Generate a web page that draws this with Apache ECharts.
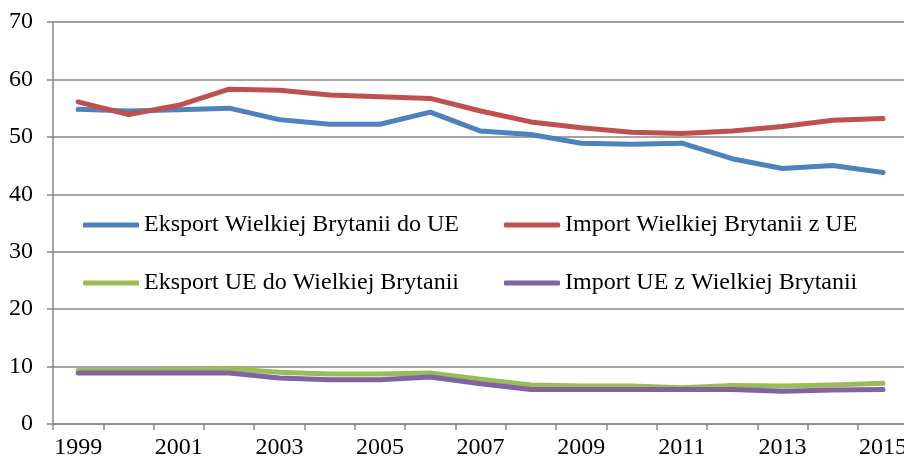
<!DOCTYPE html>
<html style="height: 100%">
<head>
<meta charset="utf-8">
<style type="text/css">
* { margin: 0; padding: 0; }
</style>
</head>
<body style="height: 100%; margin: 0; background: #fff; overflow: hidden">
<!-- the original chart is cropped on the right, so the canvas runs a few px past the window -->
<div id="main" style="width: 910px; height: 460px"></div>
<script type="text/javascript" src="https://cdn.jsdelivr.net/npm/echarts@6/dist/echarts.min.js"></script>
<script type="text/javascript">
var years = ['1999','2000','2001','2002','2003','2004','2005','2006','2007','2008','2009','2010','2011','2012','2013','2014','2015'];
var names = ['Eksport Wielkiej Brytanii do UE', 'Import Wielkiej Brytanii z UE', 'Eksport UE do Wielkiej Brytanii', 'Import UE z Wielkiej Brytanii'];
var eksportWB = [54.8, 54.5, 54.7, 55.0, 53.0, 52.2, 52.2, 54.3, 51.0, 50.4, 48.9, 48.7, 48.9, 46.2, 44.5, 45.0, 43.8];
var importWB  = [56.1, 53.9, 55.5, 58.3, 58.1, 57.3, 57.0, 56.7, 54.5, 52.6, 51.6, 50.8, 50.6, 51.0, 51.8, 52.9, 53.2];
var eksportUE = [9.3, 9.3, 9.4, 9.6, 9.0, 8.7, 8.7, 8.9, 7.8, 6.8, 6.6, 6.6, 6.3, 6.7, 6.6, 6.8, 7.1];
var importUE  = [8.9, 8.9, 8.9, 8.9, 8.0, 7.7, 7.7, 8.2, 7.0, 6.0, 6.0, 6.0, 6.0, 6.0, 5.7, 5.9, 6.0];
var colors = ['#4F81BD', '#C0504D', '#9BBB59', '#8064A2'];

var font = "'Liberation Serif', 'Times New Roman', serif";
var myChart = echarts.init(document.getElementById('main'));

function leg(name, left, top) {
	return {
		data: [name], left: left, top: top, padding: 0,
		icon: 'roundRect', itemWidth: 56, itemHeight: 5, itemGap: 0,
		selectedMode: false,
		textStyle: { fontFamily: font, fontSize: 24, color: '#000' }
	};
}

function line(i, data) {
	return {
		name: names[i], type: 'line', data: data,
		symbol: 'none', smooth: false,
		itemStyle: { color: colors[i] },
		lineStyle: { color: colors[i], width: 5, cap: 'round', join: 'round' }
	};
}

var option = {
	animation: false,
	color: colors,
	grid: { left: 53, right: 0, top: 22, bottom: 35 },
	legend: [
		leg(names[0], 83, 213),
		leg(names[1], 504, 213),
		leg(names[2], 83, 271),
		leg(names[3], 504, 271)
	],
	xAxis: {
		type: 'category', data: years, boundaryGap: true,
		axisLine: { lineStyle: { color: '#868686', width: 1.5 } },
		axisTick: { show: true, interval: 0, length: 6, lineStyle: { color: '#868686', width: 1.5 } },
		axisLabel: { interval: 1, margin: 12, fontFamily: font, fontSize: 24, color: '#000' },
		splitLine: { show: false }
	},
	yAxis: {
		type: 'value', min: 0, max: 70, interval: 10,
		axisLine: { show: true, lineStyle: { color: '#868686', width: 1.5 } },
		axisTick: { show: true, length: 6, lineStyle: { color: '#868686', width: 1.5 } },
		axisLabel: { margin: 20, fontFamily: font, fontSize: 24, color: '#000' },
		splitLine: { lineStyle: { color: '#868686', width: 1.5 } }
	},
	series: [
		line(0, eksportWB),
		line(1, importWB),
		line(2, eksportUE),
		line(3, importUE)
	]
};
myChart.setOption(option);
</script>
</body>
</html>
